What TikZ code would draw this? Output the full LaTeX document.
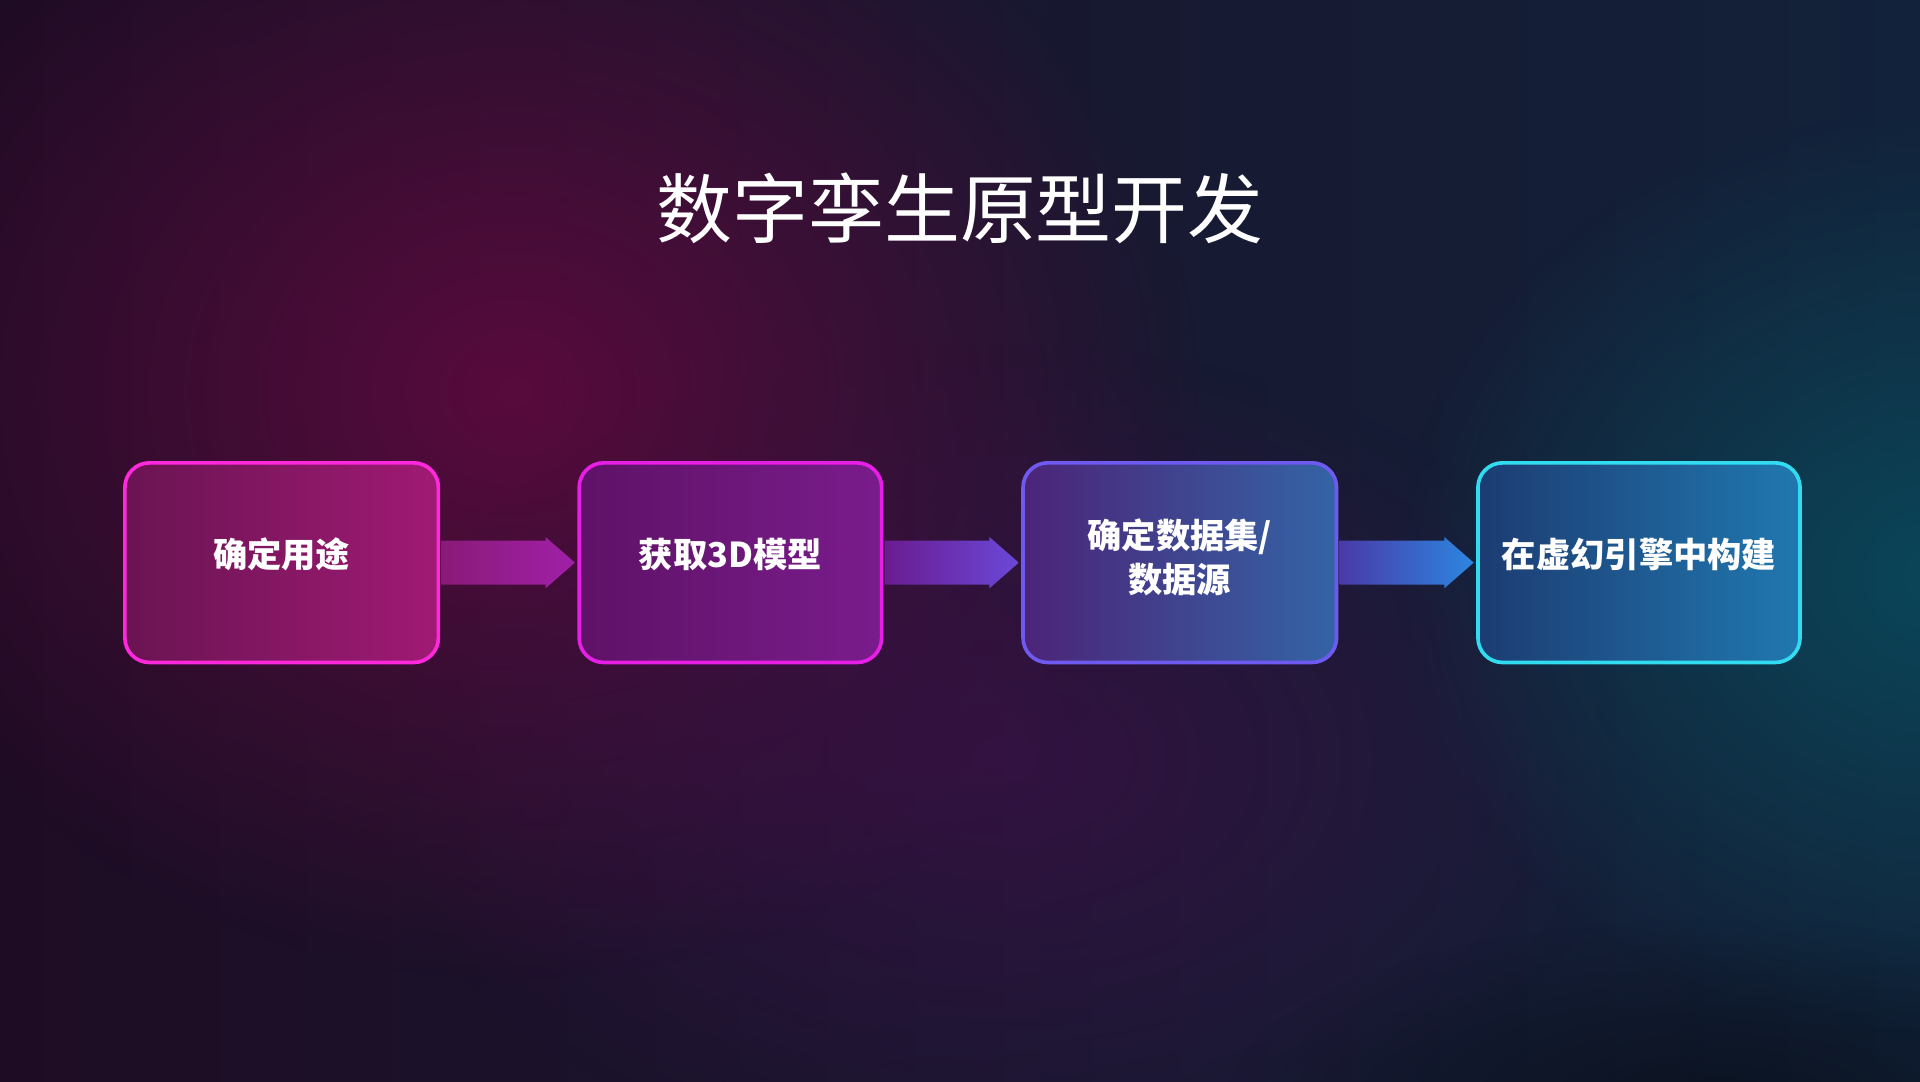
\documentclass[tikz,border=0pt]{standalone}
\usepackage{fontspec}
\newfontfamily\cjk{Noto Sans CJK SC}
\usetikzlibrary{fadings,calc}
\tikzfading[name=glow, inner color=transparent!0, outer color=transparent!100]
\definecolor{bgA}{HTML}{1E0C24}
\definecolor{bgB}{HTML}{12223A}
\definecolor{gM}{HTML}{5C0A3E}
\definecolor{gV}{HTML}{3E1048}
\definecolor{gT}{HTML}{0A4A5C}
\tikzset{
  stepbox/.style={rounded corners=10pt, line width=1.5pt, minimum width=128pt, minimum height=81.5pt, text=white, font=\cjk\bfseries\fontsize{14}{18}\selectfont, align=center}
}
\begin{document}
\begin{tikzpicture}[x=0.5pt,y=-0.5pt]
\useasboundingbox (0,0) rectangle (1568,883);
\shade[left color=bgA, right color=bgB] (0,0) rectangle (1568,883);
\fill[fill=gM, path fading=glow, fill opacity=0.95] (420,320) ellipse (560 and 480);
\fill[fill=gV, path fading=glow, fill opacity=0.7] (820,620) ellipse (520 and 340);
\fill[fill=gT, path fading=glow, fill opacity=0.9] (1580,470) ellipse (440 and 380);
\fill[fill=black, path fading=glow, fill opacity=0.4] (1400,900) ellipse (400 and 150);
\node (title) at (784,170) {\cjk\color{white}\fontsize{31}{36}\selectfont 数字孪生原型开发};
% boxes
\definecolor{b1a}{HTML}{6A1452}\definecolor{b1b}{HTML}{A01A74}
\definecolor{b2a}{HTML}{5E1266}\definecolor{b2b}{HTML}{7A1C8C}
\definecolor{b3a}{HTML}{4C2478}\definecolor{b3b}{HTML}{3464A6}
\definecolor{b4a}{HTML}{1C3C72}\definecolor{b4b}{HTML}{2078B0}
\node[stepbox, draw={rgb,255:red,255;green,40;blue,220}, left color=b1a, right color=b1b] (s1) at (230,459.5) {};
\node[stepbox, minimum width=123.5pt, draw={rgb,255:red,230;green,30;blue,230}, left color=b2a, right color=b2b] (s2) at (596.5,459.5) {};
\node[stepbox, draw={rgb,255:red,110;green,90;blue,240}, left color=b3a, right color=b3b] (s3) at (963.5,459.5) {};
\node[stepbox, minimum width=131.5pt, draw={rgb,255:red,50;green,220;blue,240}, left color=b4a, right color=b4b] (s4) at (1338.5,459.5) {};
\node[stepbox, draw=none, minimum width=0pt, minimum height=0pt] (t1) at (230,453) {确定用途};
\node[stepbox, draw=none, minimum width=0pt, minimum height=0pt] (t2) at (596.5,453) {获取3D模型};
\node[stepbox, draw=none, minimum width=0pt, minimum height=0pt] (t3) at (963.5,455) {确定数据集/\\数据源};
\node[stepbox, draw=none, minimum width=0pt, minimum height=0pt] (t4) at (1338.5,453) {在虚幻引擎中构建};
% arrows
\definecolor{a1a}{HTML}{8A1A78}\definecolor{a1b}{HTML}{A020A8}
\definecolor{a2a}{HTML}{6A1C90}\definecolor{a2b}{HTML}{6A48D8}
\definecolor{a3a}{HTML}{4A3AA8}\definecolor{a3b}{HTML}{2C86E0}
\foreach \a/\b/\ca/\cb in {s1/s2/a1a/a1b, s2/s3/a2a/a2b, s3/s4/a3a/a3b}{
  \shade[left color=\ca, right color=\cb]
   ($(\a.east)+(1,-18)$) -- ($(\b.west)+(-26,-18)$) -- ($(\b.west)+(-26,-21)$) -- ($(\b.west)+(-2,0)$)
   -- ($(\b.west)+(-26,21)$) -- ($(\b.west)+(-26,18)$) -- ($(\a.east)+(1,18)$) -- cycle;
}
\end{tikzpicture}
\end{document}
